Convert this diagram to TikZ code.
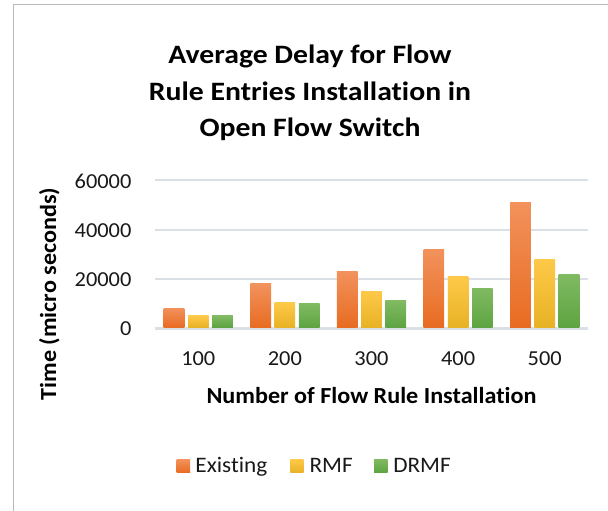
\documentclass[tikz,border=0pt]{standalone}
\usepackage{fontspec}
\setmainfont{Carlito}[FakeStretch=1.05,Ligatures=NoCommon]
\newfontfamily\titlefont{Carlito}[FakeStretch=1.12,Ligatures=NoCommon]
\definecolor{exTop}{RGB}{242,146,92}
\definecolor{exMid}{RGB}{241,122,42}
\definecolor{exBot}{RGB}{232,108,34}
\definecolor{rmTop}{RGB}{254,201,72}
\definecolor{rmMid}{RGB}{255,196,18}
\definecolor{rmBot}{RGB}{232,178,38}
\definecolor{drTop}{RGB}{128,186,98}
\definecolor{drMid}{RGB}{112,176,72}
\definecolor{drBot}{RGB}{94,164,66}
\definecolor{gridc}{RGB}{219,223,230}
\definecolor{framec}{RGB}{185,185,185}
\begin{document}
\begin{tikzpicture}[x=0.75pt,y=-0.75pt,
  titletext/.style={font=\titlefont\bfseries\fontsize{19.9}{24}\selectfont,anchor=base,inner sep=0pt},
  ticktext/.style={font=\fontsize{16}{20}\selectfont,inner sep=0pt,text=black!90},
  axistitle/.style={font=\bfseries\fontsize{17.25}{21}\selectfont,anchor=base,inner sep=0pt},
  legtext/.style={font=\fontsize{16.6}{20}\selectfont,anchor=base west,inner sep=0pt,text=black!90},
  gridline/.style={draw=gridc,line width=1.5pt},
  exbar/.style={top color=exTop,middle color=exMid,bottom color=exBot},
  rmbar/.style={top color=rmTop,middle color=rmMid,bottom color=rmBot},
  drbar/.style={top color=drTop,middle color=drMid,bottom color=drBot}]
\useasboundingbox[fill=white] (0,0) rectangle (608,511);
% chart area frame
\draw[framec,line width=1pt] (13.5,511) -- (13.5,4.8) -- (608,4.8);

% title
\node[titletext] (t1) at (310,63.3) {Average Delay for Flow};
\node[titletext] (t2) at (310,100.7) {Rule Entries Installation in};
\node[titletext] (t3) at (310,136) {Open Flow Switch};

% value gridlines and tick labels (values in units of 20000)
\foreach \v/\u [count=\k from 0] in {0/0,20000/1,40000/2,60000/3} {
  \pgfmathsetmacro\gy{328-\u*49.2}
  \ifnum\k>0 \draw[gridline] (155,\gy) -- (588,\gy); \fi
  \node[ticktext,anchor=east] (y\k) at (131.7,\gy+0.8) {\v};
}
% category axis
\draw[draw=gridc,line width=2.2pt] (155,328.5) -- (588,328.5);

% bars: category / Existing / RMF / DRMF (values in thousands)
\foreach \c/\a/\b/\d [count=\i from 0] in
  {100/8.1/4.9/4.9, 200/17.9/10.2/9.8, 300/23.1/15.0/11.0,
   400/32.1/21.1/16.2, 500/51.2/28.0/21.9} {
  \pgfmathsetmacro\cx{155+86.6*(\i+0.5)}
  \shade[exbar] ({\cx-34.6},327) rectangle ({\cx-13.9},{328-\a*2.46});
  \shade[rmbar] ({\cx-10.3},327) rectangle ({\cx+10.3},{328-\b*2.46});
  \shade[drbar] ({\cx+13.9},327) rectangle ({\cx+34.6},{328-\d*2.46});
  \node[ticktext,anchor=base] (x\i) at (\cx,365) {\c};
}

% axis titles
\node[axistitle] (xt) at (371.5,403.3) {Number of Flow Rule Installation};
\node[axistitle,rotate=90] (yt) at (56,294) {Time (micro seconds)};

% legend
\shade[exbar] (176.6,459.3) rectangle (190,472.7);
\node[legtext] (l1) at (195.2,472.7) {Existing};
\shade[rmbar] (290.3,459.3) rectangle (303.7,472.7);
\node[legtext] (l2) at (309.3,472.7) {RMF};
\shade[drbar] (374.2,459.3) rectangle (387.6,472.7);
\node[legtext] (l3) at (393,472.7) {DRMF};
\end{tikzpicture}
\end{document}
